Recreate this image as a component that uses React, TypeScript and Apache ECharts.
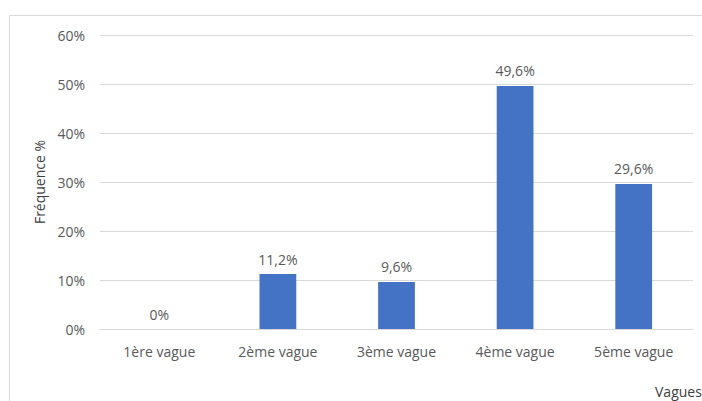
import React, { useEffect, useRef } from "react";
import * as echarts from "echarts";

const categories = ["1ère vague", "2ème vague", "3ème vague", "4ème vague", "5ème vague"];
const values = [0, 11.2, 9.6, 49.6, 29.6];
const valueLabels = ["0%", "11,2%", "9,6%", "49,6%", "29,6%"];
const yTicks = [0, 10, 20, 30, 40, 50, 60];
const xTitle = "Vagues";
const yTitle = "Fréquence %";

const FONT = "'Open Sans', Lato, sans-serif";
const TXT = "#595959";
const FS = 14;

export default function App() {
  const ref = useRef<HTMLDivElement>(null);
  useEffect(() => {
    if (!ref.current) return;
    const chart = echarts.init(ref.current, undefined, { renderer: "svg" });
    chart.setOption({
      animation: false,
      backgroundColor: "#ffffff",
      grid: { left: 100, right: 9, top: 35, bottom: 72, containLabel: false },
      xAxis: {
        type: "category",
        data: categories,
        axisLine: { lineStyle: { color: "#d9d9d9" } },
        axisTick: { show: false },
        axisLabel: { color: TXT, fontFamily: FONT, fontSize: FS, margin: 15 },
      },
      yAxis: {
        type: "value",
        min: 0,
        max: 60,
        interval: 10,
        splitLine: { lineStyle: { color: "#d9d9d9" } },
        axisLine: { show: false },
        axisTick: { show: false },
        axisLabel: {
          color: TXT,
          fontFamily: FONT,
          fontSize: FS,
          margin: 15,
          formatter: (v: number) => (yTicks.includes(v) ? v + "%" : ""),
        },
        name: yTitle,
        nameLocation: "middle",
        nameGap: 49,
        nameTextStyle: { color: "#404040", fontFamily: FONT, fontSize: FS },
      },
      series: [
        {
          type: "bar",
          data: values,
          barWidth: "31%",
          itemStyle: { color: "#4472c4" },
          label: {
            show: true,
            position: "top",
            distance: 8,
            color: TXT,
            fontFamily: FONT,
            fontSize: FS,
            formatter: (p: any) => valueLabels[p.dataIndex],
          },
        },
      ],
      graphic: [
        { type: "line", shape: { x1: 9.5, y1: 15.5, x2: 702, y2: 15.5 }, style: { stroke: "#d9d9d9", lineWidth: 1 } },
        { type: "line", shape: { x1: 9.5, y1: 15.5, x2: 9.5, y2: 401 }, style: { stroke: "#d9d9d9", lineWidth: 1 } },
        {
          type: "text",
          left: 655,
          top: 384,
          style: { text: xTitle, fill: "#404040", font: `${FS}px ${FONT}` },
        },
      ],
    });
    return () => chart.dispose();
  }, []);
  return <div ref={ref} style={{ width: 702, height: 401, position: "fixed", left: 0, top: 0 }} />;
}
